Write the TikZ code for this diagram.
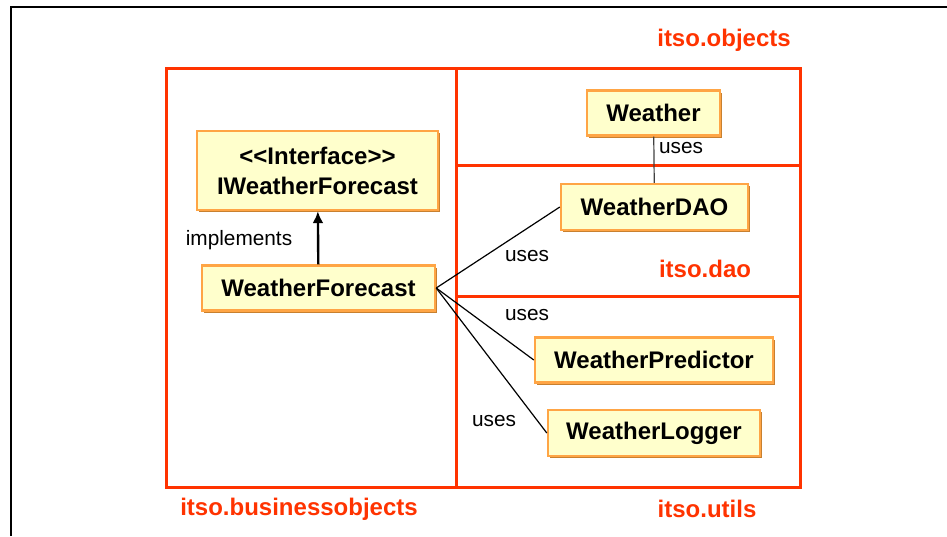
\documentclass[tikz,border=0pt]{standalone}
\usepackage{fontspec}
\setmainfont{Liberation Sans}
\usetikzlibrary{shadows,arrows.meta}

\definecolor{pkgred}{HTML}{FF3300}
\definecolor{clsfill}{HTML}{FFFFCC}
\definecolor{clsline}{HTML}{FFA545}
\definecolor{clsshadow}{HTML}{C8802F}

\begin{document}
\begin{tikzpicture}[x=.5pt,y=-.5pt,
  cls/.style={draw=clsline,line width=1.2pt,fill=clsfill,align=center,inner sep=0pt,
    font=\bfseries\fontsize{12}{15}\selectfont,
    drop shadow={shadow xshift=1.2pt,shadow yshift=-1.2pt,fill=clsshadow,opacity=1}},
  pkg/.style={draw=pkgred,line width=1.5pt},
  pkgname/.style={text=pkgred,font=\bfseries\fontsize{12}{14}\selectfont},
  lbl/.style={font=\fontsize{10.4}{12}\selectfont}]
\useasboundingbox (0,0) rectangle (947,536);

% frame
\draw[line width=1pt] (11,536) -- (11,7) -- (947,7);

% packages
\draw[pkg] (166,68) rectangle (456,487);
\draw[pkg] (456,68) rectangle (800,487);
\draw[pkg] (456,165) -- (800,165);
\draw[pkg] (456,296) -- (800,296);

\node[pkgname] (objects) at (724,40) {itso.objects};
\node[pkgname] (dao) at (705,269) {itso.dao};
\node[pkgname] (business) at (299,509) {itso.businessobjects};
\node[pkgname] (utils) at (707,509) {itso.utils};

% classes
\node[cls,minimum width=120.5pt,minimum height=39.5pt] (iforecast) at (317.5,170.5) {<{}<Interface>{}>\\IWeatherForecast};
\node[cls,minimum width=116.5pt,minimum height=22.5pt] (forecast) at (318.5,288) {WeatherForecast};
\node[cls,minimum width=66.5pt,minimum height=22.5pt] (weather) at (653.5,113) {Weather};
\node[cls,minimum width=93.5pt,minimum height=23pt] (weatherdao) at (654.5,207) {WeatherDAO};
\node[cls,minimum width=119pt,minimum height=22.5pt] (predictor) at (654,360) {WeatherPredictor};
\node[cls,minimum width=106pt,minimum height=23pt] (logger) at (654,433) {WeatherLogger};

% relations
\draw[line width=1.2pt,-{Latex[length=6pt,width=5.5pt]}] (forecast) -- (iforecast);
\node[lbl] (implements) at (239,240) {implements};

\draw[black!75,line width=.6pt] (weather) -- (weatherdao);
\node[lbl] (uses1) at (681,148) {uses};

\draw[line width=.6pt] (forecast.east) -- (weatherdao.west);
\node[lbl] (uses2) at (527,256) {uses};
\draw[line width=.6pt] (forecast.east) -- (predictor.west);
\node[lbl] (uses3) at (527,315) {uses};
\draw[line width=.6pt] (forecast.east) -- (logger.west);
\node[lbl] (uses4) at (494,421) {uses};
\end{tikzpicture}
\end{document}
